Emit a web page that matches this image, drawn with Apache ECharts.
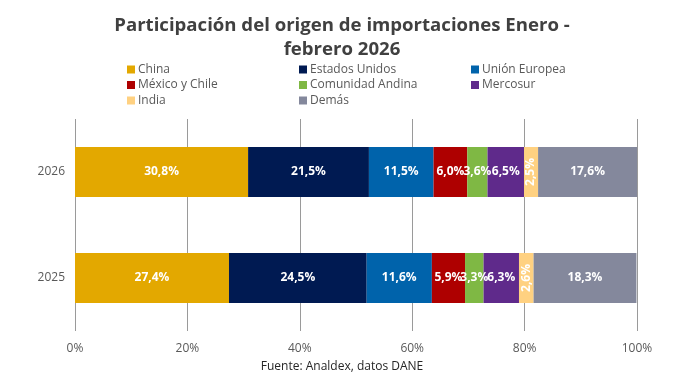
<!DOCTYPE html>
<html><head><meta charset="utf-8">
<script src="https://cdn.jsdelivr.net/npm/echarts@6/dist/echarts.min.js"></script>
<style>html,body{margin:0;padding:0;background:#fff}#c{width:684px;height:384px}</style>
</head><body><div id="c"></div>
<script>
const categories = ['2025', '2026'];
const seriesNames = ['China', 'Estados Unidos', 'Unión Europea', 'México y Chile', 'Comunidad Andina', 'Mercosur', 'India', 'Demás'];
const china = [27.4, 30.8];
const estadosUnidos = [24.5, 21.5];
const unionEuropea = [11.6, 11.5];
const mexicoChile = [5.9, 6.0];
const comunidadAndina = [3.3, 3.6];
const mercosur = [6.3, 6.5];
const india = [2.6, 2.5];
const demas = [18.3, 17.6];
const xTicks = [0, 20, 40, 60, 80, 100];

const values = [china, estadosUnidos, unionEuropea, mexicoChile, comunidadAndina, mercosur, india, demas];
const colors = ['#E3A800', '#001A52', '#0063AB', '#AE0000', '#7FB844', '#5F2A8B', '#FFD181', '#84889C'];
const font = 'Open Sans';

const chart = echarts.init(document.getElementById('c'));
const series = seriesNames.map((n, i) => ({
  name: n, type: 'bar', stack: 'total', barWidth: 50,
  itemStyle: {color: colors[i]},
  data: values[i],
  label: {
    show: true, position: 'inside', color: '#fff', fontFamily: font, fontWeight: 'bold', fontSize: 12,
    rotate: n === 'India' ? 90 : 0,
    formatter: p => p.value.toFixed(1).replace('.', ',') + '%'
  }
}));
const legendCommon = {orient: 'vertical', itemWidth: 8, itemHeight: 8, itemGap: 3.5, icon: 'rect',
  textStyle: {fontFamily: font, fontSize: 12, color: '#595959', padding: [0,0,0,-2]}, padding: 0};
chart.setOption({
  animation: false,
  title: {text: 'Participación del origen de importaciones Enero -\nfebrero 2026', left: 'center', top: 9,
    textStyle: {fontFamily: font, fontSize: 18.6, fontWeight: 'bold', color: '#404040', lineHeight: 24}},
  legend: [
    Object.assign({left: 127, top: 63.5, data: ['China', 'México y Chile', 'India']}, legendCommon),
    Object.assign({left: 299, top: 63.5, data: ['Estados Unidos', 'Comunidad Andina', 'Demás']}, legendCommon),
    Object.assign({left: 471, top: 63.5, data: ['Unión Europea', 'Mercosur']}, legendCommon)
  ],
  grid: {left: 75, right: 47, top: 119, bottom: 53},
  xAxis: {type: 'value', min: 0, max: 100, interval: 20,
    axisLabel: {formatter: v => v + '%', fontFamily: font, fontSize: 12, color: '#595959', margin: 12},
    splitLine: {lineStyle: {color: '#9a9a9a', width: 1}},
    axisLine: {show: false}, axisTick: {show: false}},
  yAxis: {type: 'category', data: categories,
    axisLabel: {fontFamily: font, fontSize: 12, color: '#595959', margin: 10},
    axisLine: {show: false}, axisTick: {show: false}},
  graphic: [{type: 'text', left: 'center', top: 361, style: {text: 'Fuente: Analdex, datos DANE',
    font: '12px "Open Sans"', fill: '#262626'}}],
  series: series
});
</script></body></html>
